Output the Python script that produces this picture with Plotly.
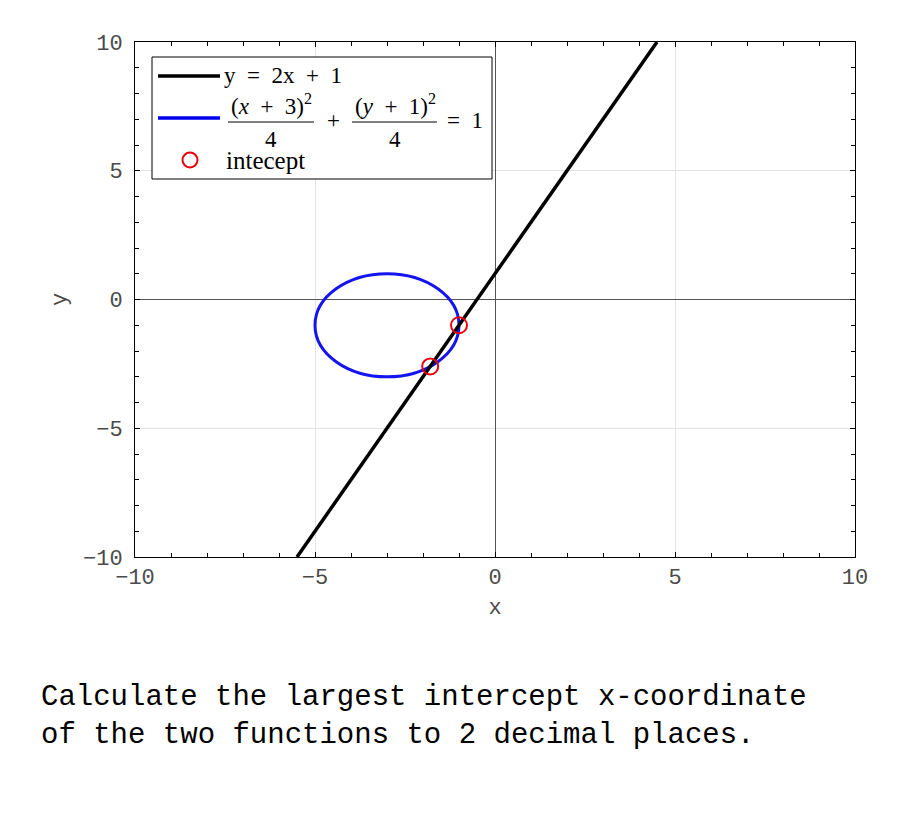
import plotly.graph_objects as go

# ---- data ----
line_x = [-5.5, 4.5]
line_y = [-10.0, 10.0]
circle_center = [-3.0, -1.0]
circle_radius = 2.0
intercept_x = [-1.8, -1.0]
intercept_y = [-2.6, -1.0]
tick_vals = [-10, -5, 0, 5, 10]
tick_text = ["\u221210", "\u22125", "0", "5", "10"]

# page body has an 8px margin; work in window pixel coordinates
OFF = 8
W, H = 892, 817
L, R, T, B = 135 - OFF, 45, 42 - OFF, 276 - OFF
PW, PH = W - L - R, H - T - B

def px(xp):
    return (xp - OFF - L) / PW

def py(yp):
    return (H - B - (yp - OFF)) / PH

mono = "Liberation Mono, Courier New, monospace"
serif = "Liberation Serif, Times New Roman, serif"
sp = "\u2002"

fig = go.Figure()
fig.add_trace(go.Scatter(x=line_x, y=line_y, mode="lines",
                         line=dict(color="black", width=3.5),
                         showlegend=False, hoverinfo="skip"))
fig.add_trace(go.Scatter(x=intercept_x, y=intercept_y, mode="markers",
                         marker=dict(symbol="circle-open", size=16,
                                     color="#e8000b", line=dict(width=2)),
                         showlegend=False, hoverinfo="skip"))

shapes = []
shapes.append(dict(type="circle", xref="x", yref="y", layer="between",
                   x0=circle_center[0] - circle_radius, x1=circle_center[0] + circle_radius,
                   y0=circle_center[1] - circle_radius, y1=circle_center[1] + circle_radius,
                   line=dict(color="#1414f0", width=3)))

# legend box
shapes.append(dict(type="rect", xref="paper", yref="paper", layer="above",
                   x0=px(152), x1=px(492), y0=py(179), y1=py(57),
                   line=dict(color="black", width=1), fillcolor="white"))
shapes.append(dict(type="line", xref="paper", yref="paper", layer="above",
                   x0=px(158), x1=px(220), y0=py(76), y1=py(76),
                   line=dict(color="black", width=3.5)))
shapes.append(dict(type="line", xref="paper", yref="paper", layer="above",
                   x0=px(158), x1=px(220), y0=py(118), y1=py(118),
                   line=dict(color="#0000ee", width=3.5)))
shapes.append(dict(type="circle", xref="paper", yref="paper", layer="above",
                   xsizemode="pixel", ysizemode="pixel",
                   xanchor=px(190), yanchor=py(160),
                   x0=-7.5, x1=7.5, y0=-7.5, y1=7.5,
                   line=dict(color="#e8000b", width=2)))
# fraction bars
shapes.append(dict(type="line", xref="paper", yref="paper", layer="above",
                   x0=px(228), x1=px(314), y0=py(122), y1=py(122),
                   line=dict(color="black", width=1)))
shapes.append(dict(type="line", xref="paper", yref="paper", layer="above",
                   x0=px(352), x1=px(437), y0=py(122), y1=py(122),
                   line=dict(color="black", width=1)))

ann = []
def txt(s, x, y, xanchor="left", size=23, font=serif):
    ann.append(dict(text=s, xref="paper", yref="paper", x=px(x), y=py(y),
                    xanchor=xanchor, yanchor="middle", showarrow=False,
                    font=dict(family=font, size=size, color="black")))

txt(f"y{sp}={sp}2x{sp}+{sp}1", 222, 75)
txt(f"(<i>x</i>{sp}+{sp}3)<sup>2</sup>", 271, 104, "center")
txt("4", 271, 139, "center")
txt("+", 333, 121, "center")
txt(f"(<i>y</i>{sp}+{sp}1)<sup>2</sup>", 395, 104, "center")
txt("4", 395, 139, "center")
txt(f"={sp}1", 445, 121)
txt("intecept", 224, 160, size=25)

ann.append(dict(text="Calculate the largest intercept x-coordinate<br>of the two functions to 2 decimal places.",
                xref="paper", yref="paper", x=px(39), y=py(717),
                xanchor="left", yanchor="middle", align="left", showarrow=False,
                font=dict(family=mono, size=29, color="black")))

axis_common = dict(range=[-10, 10], tickvals=tick_vals, ticktext=tick_text,
                   showline=True, linecolor="black", linewidth=1, mirror="ticks",
                   ticks="inside", ticklen=5, tickcolor="black",
                   showgrid=True, gridcolor="#e3e3e3", gridwidth=1,
                   zeroline=True, zerolinecolor="#555555", zerolinewidth=1,
                   tickfont=dict(family=mono, size=22, color="#4a4a4a"),
                   minor=dict(dtick=1, ticks="inside", ticklen=4, tickcolor="black", showgrid=False),
                   fixedrange=True)

fig.update_layout(
    width=W, height=H,
    margin=dict(l=L, r=R, t=T, b=B, pad=0),
    paper_bgcolor="white", plot_bgcolor="white",
    xaxis=dict(axis_common, ticklabelstandoff=0,
               title=dict(text="x", font=dict(family=mono, size=22, color="#4a4a4a"), standoff=8)),
    yaxis=dict(axis_common, ticklabelstandoff=7,
               title=dict(text="y", font=dict(family=mono, size=22, color="#4a4a4a"), standoff=10)),
    shapes=shapes, annotations=ann, showlegend=False,
)

fig.write_html("out.html")
